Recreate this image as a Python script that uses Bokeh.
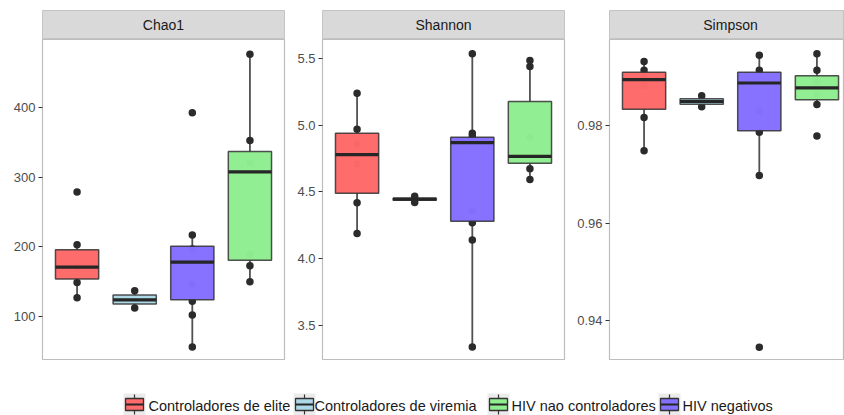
from bokeh.plotting import figure
from bokeh.layouts import row, column
from bokeh.models import Range1d, FixedTicker, PrintfTickFormatter
from bokeh.embed import file_html
from bokeh.resources import INLINE
from bokeh.core.properties import value

# Groups (legend order) and their fills
groups = ["Controladores de elite", "Controladores de viremia",
          "HIV nao controladores", "HIV negativos"]
group_colors = ["#FF6A6A", "#ADD8E6", "#90EE90", "#8470FF"]

# Order of the boxes along each panel
x_order = ["Controladores de elite", "Controladores de viremia",
           "HIV negativos", "HIV nao controladores"]

# ---- Chao1 (values in x_order) ----
chao1_lower = [127, 112, 56, 150]
chao1_q1 = [154, 118, 124, 181]
chao1_median = [171, 124, 178, 308]
chao1_q3 = [196, 131, 201, 337]
chao1_upper = [203, 137, 217, 477]
chao1_points = [
    [127, 149, 171, 203, 279],
    [112, 124, 137],
    [56, 102, 122, 146, 197, 217, 393],
    [150, 173, 189, 321, 353, 477],
]
chao1_ticks = [100, 200, 300, 400]

# ---- Shannon ----
shannon_lower = [4.19, 4.421, 3.34, 4.594]
shannon_q1 = [4.49, 4.438, 4.28, 4.716]
shannon_median = [4.78, 4.446, 4.87, 4.766]
shannon_q3 = [4.94, 4.454, 4.91, 5.178]
shannon_upper = [5.24, 4.468, 5.535, 5.485]
shannon_points = [
    [4.19, 4.42, 4.71, 4.86, 4.97, 5.24],
    [4.421, 4.446, 4.468],
    [3.34, 4.14, 4.27, 4.36, 4.92, 4.94, 5.535],
    [4.594, 4.674, 4.911, 5.44, 5.485],
]
shannon_ticks = [3.5, 4.0, 4.5, 5.0, 5.5]

# ---- Simpson ----
simpson_lower = [0.9749, 0.9839, 0.9698, 0.9844]
simpson_q1 = [0.9834, 0.98445, 0.9790, 0.98535]
simpson_median = [0.9895, 0.9850, 0.9888, 0.9878]
simpson_q3 = [0.9910, 0.98555, 0.9910, 0.9903]
simpson_upper = [0.9932, 0.9862, 0.9945, 0.9948]
simpson_points = [
    [0.9749, 0.9817, 0.9883, 0.9900, 0.9914, 0.9932],
    [0.9839, 0.9850, 0.9862],
    [0.9345, 0.9698, 0.9787, 0.9830, 0.9914, 0.9945],
    [0.9779, 0.9844, 0.9864, 0.9890, 0.9914, 0.9948],
]
simpson_ticks = [0.94, 0.96, 0.98]

FONT = "Liberation Sans"
BOX_WIDTH = 0.75
FULL_FRAME = 242
FRAME_H = 321


def strip(label, border_left, frame_width, border_right):
    frac = frame_width / FULL_FRAME
    s = figure(frame_width=frame_width, frame_height=29,
               min_border_left=border_left, min_border_right=border_right,
               min_border_top=10, min_border_bottom=0,
               x_range=Range1d(0, frac), y_range=Range1d(0, 1),
               x_axis_location=None, y_axis_location=None,
               toolbar_location=None, output_backend="svg",
               background_fill_color="#D9D9D9", border_fill_color="white",
               outline_line_color="#C4C4C4", outline_line_width=1)
    s.grid.visible = False
    s.text(x=[0.5], y=[0.5], text=[label], text_align="center",
           text_baseline="middle", text_font=value(FONT),
           text_font_size="14px", text_color="#1A1A1A")
    return s


def panel(lower, q1, med, q3, upper, pts, ticks, fmt, y_lo, y_hi,
          border_left, frame_width, border_right):
    frac = frame_width / FULL_FRAME
    x_end = 0.4 + 4.2 * frac
    p = figure(frame_width=frame_width, frame_height=FRAME_H,
               min_border_left=border_left, min_border_right=border_right,
               min_border_top=0, min_border_bottom=0,
               x_range=Range1d(0.4, x_end), y_range=Range1d(y_lo, y_hi),
               x_axis_location=None, toolbar_location=None,
               output_backend="svg", background_fill_color="white",
               border_fill_color="white", outline_line_color="#BDBDBD",
               outline_line_width=1.2)
    p.grid.visible = False
    ax = p.yaxis[0]
    ax.ticker = FixedTicker(ticks=ticks)
    ax.formatter = PrintfTickFormatter(format=fmt)
    ax.axis_line_color = None
    ax.major_tick_in = 0
    ax.major_tick_out = 4
    ax.major_tick_line_color = "#333333"
    ax.minor_tick_line_color = None
    ax.major_label_standoff = 3
    ax.major_label_text_font = FONT
    ax.major_label_text_font_size = "13px"
    ax.major_label_text_color = "#4D4D4D"

    xs = [x_order.index(g) + 1 for g in x_order]
    fills = [group_colors[groups.index(g)] for g in x_order]

    # whiskers
    p.segment(x0=xs, y0=q3, x1=xs, y1=upper, line_color="#333333",
              line_alpha=0.85, line_width=1.8)
    p.segment(x0=xs, y0=q1, x1=xs, y1=lower, line_color="#333333",
              line_alpha=0.85, line_width=1.8)

    # sample points (drawn beneath the boxes)
    px, py = [], []
    for x, vals in zip(xs, pts):
        px += [x] * len(vals)
        py += list(vals)
    p.scatter(x=px, y=py, size=7.5, fill_color="#2B2B2B", line_color=None)

    # boxes and medians
    p.vbar(x=xs, width=BOX_WIDTH, bottom=q1, top=q3, fill_color=fills,
           fill_alpha=0.985, line_color="#333333", line_alpha=0.85,
           line_width=1.5)
    half = BOX_WIDTH / 2
    p.segment(x0=[x - half for x in xs], y0=med, x1=[x + half for x in xs],
              y1=med, line_color="#262626", line_width=3.2)
    return p


s1 = strip("Chao1", 42, 242, 6)
p1 = panel(chao1_lower, chao1_q1, chao1_median, chao1_q3, chao1_upper,
           chao1_points, chao1_ticks, "%d", 36.7, 498.2, 42, 242, 6)
s2 = strip("Shannon", 32, 242, 6)
p2 = panel(shannon_lower, shannon_q1, shannon_median, shannon_q3,
           shannon_upper, shannon_points, shannon_ticks, "%.1f",
           3.238, 5.642, 32, 242, 6)
s3 = strip("Simpson", 39, 235, 0)
p3 = panel(simpson_lower, simpson_q1, simpson_median, simpson_q3,
           simpson_upper, simpson_points, simpson_ticks, "%.2f",
           0.93178, 0.99774, 39, 235, 0)

# Legend strip along the bottom (pixel-like coordinates, y downward)
leg = figure(width=844, height=55, x_range=Range1d(0, 844),
             y_range=Range1d(55, 0), x_axis_location=None,
             y_axis_location=None, toolbar_location=None,
             output_backend="svg", min_border=0, outline_line_color=None,
             background_fill_color="white", border_fill_color="white")
leg.grid.visible = False
key_left = [123, 293, 487, 658]
label_left = [148, 314, 511, 682]
key_w = 22
leg.quad(left=key_left, right=[k + key_w for k in key_left],
         top=[33] * 4, bottom=[55] * 4, fill_color="#EBEBEB",
         line_color=None)
leg.quad(left=[k + 2 for k in key_left], right=[k + key_w - 2 for k in key_left],
         top=[38] * 4, bottom=[50] * 4, fill_color=group_colors,
         line_color="#333333", line_width=1.3)
kc = [k + key_w / 2 for k in key_left]
leg.segment(x0=[k + 2 for k in key_left], x1=[k + key_w - 2 for k in key_left],
            y0=[44] * 4, y1=[44] * 4, line_color="#262626", line_width=2)
leg.segment(x0=kc, x1=kc, y0=[34] * 4, y1=[38] * 4, line_color="#333333",
            line_width=1.2)
leg.segment(x0=kc, x1=kc, y0=[50] * 4, y1=[54] * 4, line_color="#333333",
            line_width=1.2)
leg.text(x=label_left, y=[45] * 4, text=groups, text_align="left",
         text_baseline="middle", text_font=value(FONT),
         text_font_size="14.5px", text_color="#1A1A1A")

layout = column(
    row(column(s1, p1), column(s2, p2), column(s3, p3)),
    leg,
)

open("out.html", "w").write(file_html(layout, INLINE))
